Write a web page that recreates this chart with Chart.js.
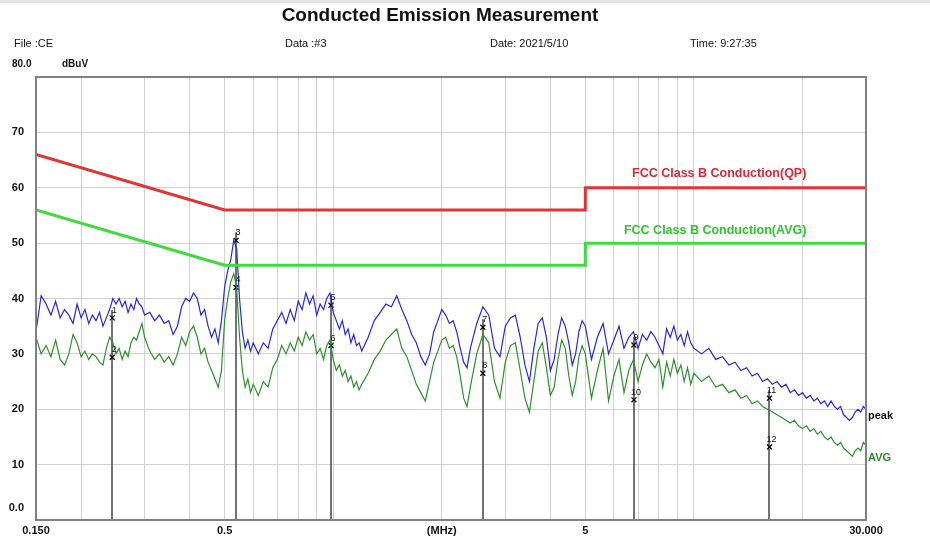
<!DOCTYPE html>
<html>
<head>
<meta charset="utf-8">
<script src="https://cdn.jsdelivr.net/npm/chart.js@4"></script>
<style>
  html, body { margin: 0; padding: 0; background: #fff; }
  canvas { display: block; }
</style>
</head>
<body>
<canvas id="ce" width="930" height="541"></canvas>
<script>
// sweep frequencies (MHz) and readings (dBuV)
const freqs = [
  0.150,0.155,0.160,0.165,0.170,0.175,0.180,0.185,0.190,0.195,0.200,0.205,0.210,0.215,0.220,0.225,
  0.230,0.235,0.240,0.245,0.250,0.255,0.260,0.265,0.270,0.275,0.280,0.285,0.290,0.295,0.300,
  0.31,0.32,0.33,0.34,0.35,0.36,0.37,0.38,0.39,0.40,0.41,0.42,0.43,0.44,0.45,0.46,0.47,0.48,0.49,0.50,
  0.51,0.52,0.53,0.54,0.55,0.56,0.57,0.58,0.59,0.60,
  0.62,0.64,0.66,0.68,0.70,0.72,0.74,0.76,0.78,0.80,0.82,0.84,0.86,0.88,0.90,0.92,0.94,0.96,0.98,1.00,
  1.02,1.04,1.06,1.08,1.10,1.12,1.14,1.16,1.18,1.20,
  1.25,1.30,1.35,1.40,1.45,1.50,1.55,1.60,1.65,1.70,1.75,1.80,1.85,1.90,1.95,2.00,2.05,2.10,2.15,2.20,
  2.25,2.30,2.35,2.40,
  2.5,2.6,2.7,2.8,2.9,3.0,3.1,3.2,3.3,3.4,3.5,3.6,3.7,3.8,3.9,4.0,4.1,4.2,4.3,4.4,4.5,4.6,4.7,4.8,4.9,5.0,
  5.2,5.4,5.6,5.8,6.0,6.2,6.4,6.6,6.8,7.0,7.2,7.4,7.6,7.8,8.0,8.2,8.4,8.6,8.8,9.0,9.2,9.4,9.6,9.8,10.0,
  10.5,11,11.5,12,12.5,13,13.5,14,14.5,15,15.5,16,16.5,17,17.5,18,18.5,19,19.5,20,
  20.5,21,21.5,22,22.5,23,23.5,24,24.5,25,25.5,26,26.5,27,27.5,28,28.5,29,29.5,30
];
const peak = [
  34,40.5,39,37,39.5,36.5,38,37,35.5,39,36.5,38,35.5,37,36,37.5,
  35,36.5,38,40,39,40,38.5,39.5,37.5,39,38,40,39,38.5,37,
  37.5,36,37,35.5,36,33.5,35,38.5,40,39.5,41,40,37,38,35,33,34.5,32,36,42,
  45,47,50.5,49,40,34,31,32.5,30.5,32,
  30,32,31,34.5,36,37.5,35.5,38,36,39.5,38,41,39,40.5,37,39,38,40,41,37.5,
  36,34.5,36,33.5,34.5,32,33.5,31.5,32,30.5,
  33,36,37.5,39,38.5,40.5,38,36,33.5,32,29.5,28,30,34,36,38,37,35.5,36,34,
  31,28.5,27.5,31,
  35.5,38.5,37,31,29.5,35,36.5,37,33,28,25,31,35.5,36.5,33,27,29,33.5,36.5,35,32,28,30,34,36,35,
  29,33,35.5,30,32.5,35,31,33,34,31,33.5,32.5,34,33,31.5,30,34.5,33,35,32.5,33.5,31.5,34,32,31,
  30,31,29,29.5,28,28.5,27,27.5,26,26.5,25,25.5,24.5,25,24,24.5,23,23.5,22.5,23,
  22,22.5,21.5,22,21,21.5,20.5,21.5,20.5,20,20.5,19,18.5,18,18.5,19.5,20,19.5,20.5,20
];
const avg = [
  33,30,31.5,29.5,32.5,29,28,30,33.5,32,29.5,30.5,29,30,29.5,28.5,
  28,31,33,32,30,31,29,30.5,29.5,32,33,32.5,34,35.5,33,
  30.5,29,30,28.5,29.5,28,30,33,31.5,34,35,33,30,31,28.5,27,25.5,24,27,36,
  40,43,44.5,42,33,27,24,25.5,23,24.5,
  22.5,25,24,27.5,29,31.5,30,32,30.5,33,31.5,34,32.5,33.5,30,31,29,31.5,32.5,29,
  27,28,26,27,25,26,24,25,23.5,24.5,
  26.5,29,30.5,32.5,33.5,34.5,31,29.5,27,24.5,23,21.5,25,28.5,30.5,32.5,33,31,31.5,29.5,
  26,22,20.5,24,
  30,33.5,32,25,22,28.5,31.5,32,27,22,19.5,25,30.5,32,27.5,22.5,24,29,32.5,31,26,22.5,25,29.5,31.5,30,
  22,27,31,21.5,26,29,23,27,29,25,28,30,28.5,27.5,29,24,28.5,26,29,26.5,28,25,27.5,24.5,26.5,
  25,26,24,24.5,23,23.5,22,22.5,21,21.5,20.5,20,19.5,19,18.5,18,17.5,18,17,16.5,
  17,16,16.5,15.5,16,15,14.5,15,14,13.5,14,13,12.5,12,11.5,12.5,13,12.5,14,13.5
];

// FCC Class B conducted limits
const limitFreq = [0.15, 0.5, 5, 5, 30];
const qpLimit = [66, 56, 56, 60, 60];
const avgLimit = [56, 46, 46, 50, 50];

// marked readings 1..12
const markerFreq = [0.244, 0.244, 0.538, 0.538, 0.986, 0.986, 2.60, 2.60, 6.82, 6.82, 16.2, 16.2];
const markerLevel = [36.5, 29.4, 50.5, 42.0, 38.8, 31.5, 34.8, 26.5, 31.6, 21.7, 22.0, 13.2];

const xGrid = [0.15,0.2,0.3,0.4,0.5,0.6,0.7,0.8,0.9,1,2,3,4,5,6,7,8,9,10,20,30];
const xTickValues = [0.15, 0.5, 2, 5, 30];
const xTickText = ['0.150', '0.5', '(MHz)', '5', '30.000'];

const FONT = '"Liberation Sans", Arial, sans-serif';
const pts = (xs, ys) => xs.map((f, i) => ({ x: f, y: ys[i] }));

const decor = {
  id: 'decor',
  beforeDraw(chart) {
    const { ctx, width, height } = chart;
    ctx.save();
    ctx.fillStyle = '#ffffff';
    ctx.fillRect(0, 0, width, height);
    ctx.fillStyle = '#e4e4e4';
    ctx.fillRect(0, 0, width, 3);
    ctx.restore();
  },
  beforeDatasetsDraw(chart) {
    const { ctx, scales: { x, y } } = chart;
    ctx.save();
    ctx.strokeStyle = '#444';
    ctx.lineWidth = 1.5;
    for (let i = 0; i < markerFreq.length; i += 2) {
      const px = Math.round(x.getPixelForValue(markerFreq[i]));
      ctx.beginPath();
      ctx.moveTo(px, y.getPixelForValue(markerLevel[i]) - 8);
      ctx.lineTo(px, y.getPixelForValue(0));
      ctx.stroke();
    }
    ctx.restore();
  },
  afterDatasetsDraw(chart) {
    const { ctx, chartArea: a, scales: { x, y } } = chart;
    ctx.save();
    ctx.strokeStyle = '#808080';
    ctx.lineWidth = 2;
    ctx.strokeRect(a.left, a.top, a.right - a.left, a.bottom - a.top);

    // marker numbers
    ctx.font = '9px ' + FONT;
    ctx.fillStyle = '#111';
    ctx.textAlign = 'center';
    ctx.textBaseline = 'bottom';
    markerFreq.forEach((f, i) => {
      ctx.fillText(String(i + 1), x.getPixelForValue(f) + 2, y.getPixelForValue(markerLevel[i]) - 3);
    });

    // y origin label sits above the bottom edge
    ctx.font = 'bold 11px ' + FONT;
    ctx.textAlign = 'right';
    ctx.textBaseline = 'middle';
    ctx.fillText('0.0', a.left - 12, y.getPixelForValue(0) - 12);

    // limit names
    ctx.font = 'bold 12.5px ' + FONT;
    ctx.fillStyle = '#d62a3a';
    ctx.fillText('FCC Class B Conduction(QP)', x.getPixelForValue(20.5), y.getPixelForValue(60) - 14);
    ctx.fillStyle = '#2cc82c';
    ctx.fillText('FCC Class B Conduction(AVG)', x.getPixelForValue(20.5), y.getPixelForValue(50) - 13);

    // trace names
    ctx.font = 'bold 11px ' + FONT;
    ctx.textAlign = 'left';
    ctx.fillStyle = '#111';
    ctx.fillText('peak', a.right + 2, y.getPixelForValue(peak[peak.length - 1]) + 7);
    ctx.fillStyle = '#2e8b2e';
    ctx.fillText('AVG', a.right + 2, y.getPixelForValue(avg[avg.length - 1]) + 13);

    // header
    ctx.fillStyle = '#111';
    ctx.textAlign = 'center';
    ctx.font = 'bold 19px ' + FONT;
    ctx.fillText('Conducted Emission Measurement', 440, 16);
    ctx.textAlign = 'left';
    ctx.font = '11px ' + FONT;
    ctx.fillText('File :CE', 14, 44);
    ctx.fillText('Data :#3', 285, 44);
    ctx.fillText('Date: 2021/5/10', 490, 44);
    ctx.fillText('Time: 9:27:35', 690, 44);
    ctx.font = 'bold 10px ' + FONT;
    ctx.fillText('80.0', 12, 64);
    ctx.fillText('dBuV', 62, 64);
    ctx.restore();
  }
};

new Chart(document.getElementById('ce'), {
  type: 'line',
  data: {
    datasets: [
      { label: 'AVG limit', data: pts(limitFreq, avgLimit), borderColor: '#3ddc3d', borderWidth: 3, pointRadius: 0 },
      { label: 'QP limit', data: pts(limitFreq, qpLimit), borderColor: '#e23434', borderWidth: 3, pointRadius: 0 },
      { label: 'peak', data: pts(freqs, peak), borderColor: '#2828d8', borderWidth: 1.2, pointRadius: 0 },
      { label: 'AVG', data: pts(freqs, avg), borderColor: '#2f8f2f', borderWidth: 1.2, pointRadius: 0 },
      {
        label: 'markers', data: pts(markerFreq, markerLevel), showLine: false,
        pointStyle: 'crossRot', pointRadius: 3.5, borderColor: '#000', borderWidth: 1.3
      }
    ]
  },
  options: {
    responsive: false,
    animation: false,
    layout: { padding: { top: 77, right: 64, bottom: 0, left: 0 } },
    plugins: { legend: { display: false }, tooltip: { enabled: false }, title: { display: false } },
    scales: {
      x: {
        type: 'logarithmic',
        min: 0.15,
        max: 30,
        afterBuildTicks: s => { s.ticks = xGrid.map(v => ({ value: v })); },
        afterFit: s => { s.height = 21; },
        grid: { color: '#d2d2d2', lineWidth: 1, drawTicks: false },
        border: { display: false },
        ticks: {
          autoSkip: false, maxRotation: 0, minRotation: 0, padding: 4,
          color: '#111', font: { family: FONT, size: 11, weight: 'bold' },
          callback: v => {
            const i = xTickValues.findIndex(t => Math.abs(t - v) < 1e-9);
            return i < 0 ? '' : xTickText[i];
          }
        }
      },
      y: {
        type: 'linear',
        min: 0,
        max: 80,
        afterFit: s => { s.width = 36; },
        grid: { color: '#d2d2d2', lineWidth: 1, drawTicks: false },
        border: { display: false },
        ticks: {
          stepSize: 10, padding: 12,
          color: '#111', font: { family: FONT, size: 11, weight: 'bold' },
          callback: v => (v === 0 || v === 80) ? '' : String(v)
        }
      }
    }
  },
  plugins: [decor]
});
</script>
</body>
</html>
